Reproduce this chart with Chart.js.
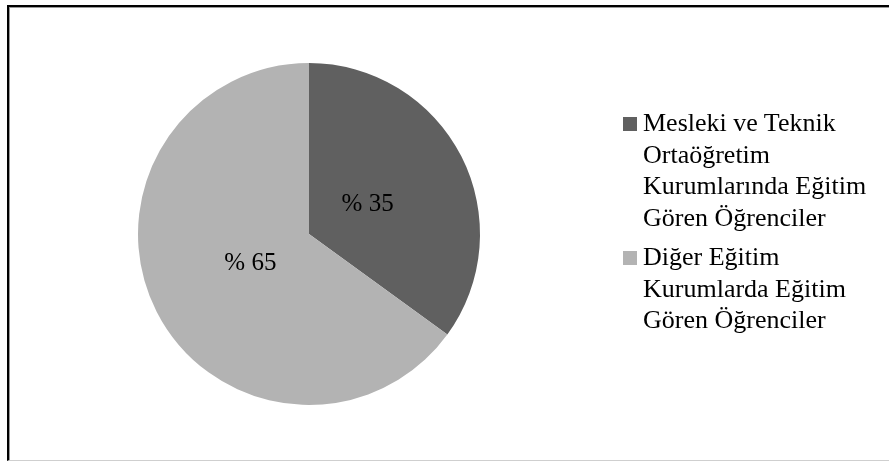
<!DOCTYPE html>
<html>
<head>
<meta charset="utf-8">
<script src="https://cdn.jsdelivr.net/npm/chart.js@4.4.1/dist/chart.umd.min.js"></script>
<style>
    html, body { margin: 0; padding: 0; background: #fff; }
    body { position: relative; width: 889px; height: 463px; overflow: hidden; }
    #frame {
        position: absolute; left: 7px; top: 5px; width: 882px; height: 456px;
        border-left: 2px solid #000; border-top: 2px solid #000;
        border-bottom: 1px solid #cfcfcf; box-sizing: border-box;
        box-shadow: 1px 1px 0 #999 inset;
    }
    #wrap { position: absolute; left: 0; top: 0; width: 889px; height: 463px; }
    #legend {
        position: absolute; left: 623px; top: 107px;
        font-family: "Liberation Serif", "Times New Roman", serif;
        font-size: 26px; line-height: 31.5px; color: #000;
    }
    #legend .item { position: relative; padding-left: 20px; margin-bottom: 8px; }
    #legend .box { position: absolute; left: 0; top: 10px; width: 14px; height: 14px; }
</style>
</head>
<body>
<div id="frame"></div>
<div id="wrap"><canvas id="myChart" width="889" height="463"></canvas></div>
<div id="legend"></div>
<script>
    // values
    const categories = [
        ['Mesleki ve Teknik', 'Ortaöğretim', 'Kurumlarında Eğitim', 'Gören Öğrenciler'],
        ['Diğer Eğitim', 'Kurumlarda Eğitim', 'Gören Öğrenciler']
    ];
    const shares = [35, 65];
    const sliceColors = ['#606060', '#b3b3b3'];

    // draws "% 35" style labels inside the slices
    const sliceLabels = {
        id: 'sliceLabels',
        afterDatasetsDraw(chart) {
            const ctx = chart.ctx;
            const meta = chart.getDatasetMeta(0);
            ctx.save();
            ctx.font = '25px "Liberation Serif", "Times New Roman", serif';
            ctx.fillStyle = '#000';
            ctx.textAlign = 'center';
            ctx.textBaseline = 'middle';
            meta.data.forEach((arc, i) => {
                const p = arc.getProps(['x', 'y', 'startAngle', 'endAngle', 'outerRadius'], true);
                const mid = (p.startAngle + p.endAngle) / 2;
                const r = p.outerRadius * 0.385;
                ctx.fillText('% ' + shares[i], p.x + Math.cos(mid) * r, p.y + Math.sin(mid) * r);
            });
            ctx.restore();
        }
    };

    const ctx = document.getElementById('myChart').getContext('2d');
    const chart = new Chart(ctx, {
        type: 'pie',
        data: {
            labels: categories,
            datasets: [{
                data: shares,
                backgroundColor: sliceColors,
                borderWidth: 0,
                hoverOffset: 0
            }]
        },
        options: {
            responsive: false,
            animation: false,
            events: [],
            layout: { padding: { left: 138, top: 63, right: 409, bottom: 58 } },
            plugins: {
                legend: { display: false },
                tooltip: { enabled: false }
            }
        },
        plugins: [sliceLabels]
    });

    // html legend built from the chart data
    const legendEl = document.getElementById('legend');
    chart.data.labels.forEach((lines, i) => {
        const item = document.createElement('div');
        item.className = 'item';
        const box = document.createElement('span');
        box.className = 'box';
        box.style.background = sliceColors[i];
        item.appendChild(box);
        lines.forEach(line => {
            const d = document.createElement('div');
            d.textContent = line;
            item.appendChild(d);
        });
        legendEl.appendChild(item);
    });
</script>
</body>
</html>
